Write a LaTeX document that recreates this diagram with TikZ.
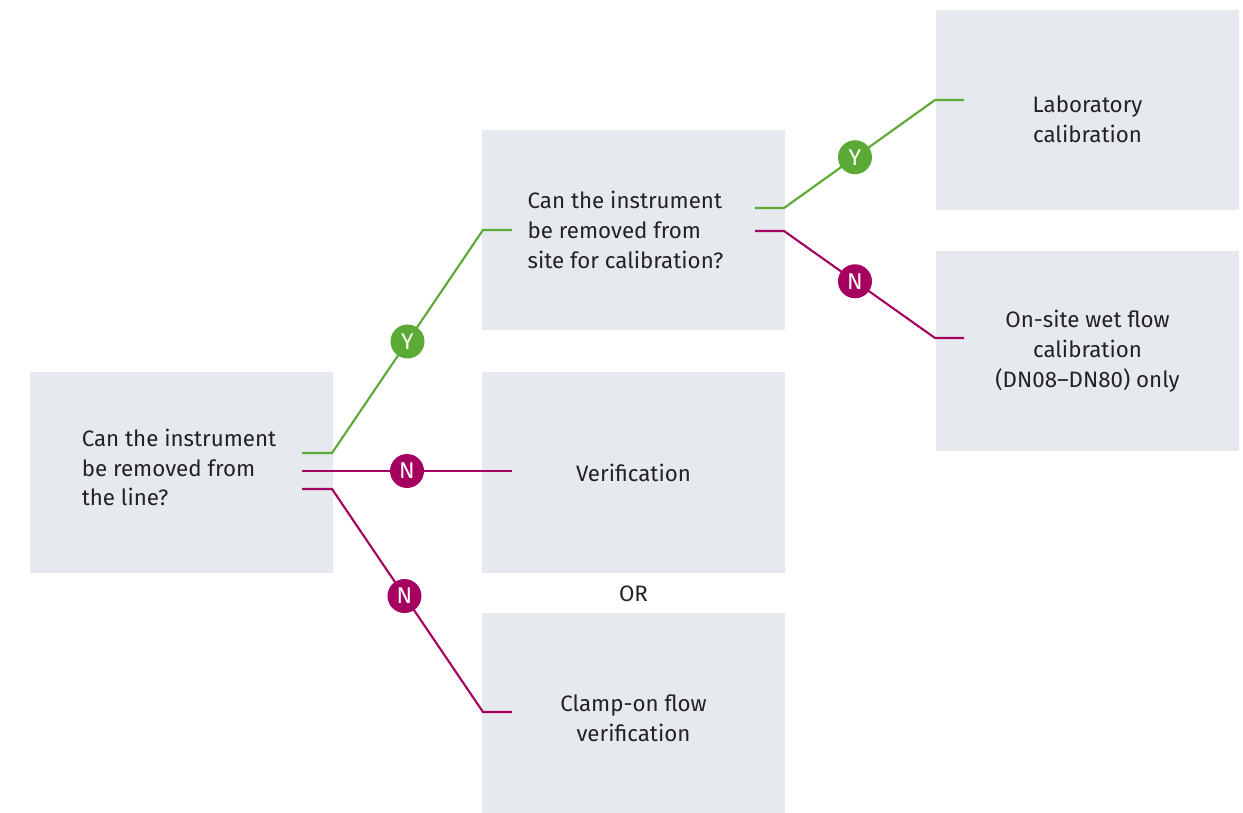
\documentclass[tikz,border=0pt]{standalone}
\usepackage{fontspec}
\setmainfont{Fira Sans}
\usetikzlibrary{positioning}

\definecolor{ehgreen}{HTML}{5BAA35}
\definecolor{ehred}{HTML}{A5005F}
\definecolor{boxgrey}{HTML}{E6EAEE}
\definecolor{txt}{HTML}{222222}

\tikzset{
  boxtext/.style={text=txt, font=\fontsize{12.7}{17}\selectfont},
  box/.style={fill=boxgrey, minimum width=6.06cm, minimum height=4.02cm, boxtext},
  yesline/.style={ehgreen, line width=1.2pt},
  noline/.style={ehred, line width=1.2pt},
  dot/.style={circle, inner sep=0pt, minimum size=0.68cm, text=white, font=\fontsize{13}{13}\selectfont},
  ydot/.style={dot, fill=ehgreen},
  ndot/.style={dot, fill=ehred}
}

\begin{document}
\begin{tikzpicture}[x=0.02cm, y=-0.02cm]
  \useasboundingbox (0,0) rectangle (1243,813);
  % questions and outcomes
  \node[box, label={[boxtext, align=left, xshift=-0.05cm, yshift=0.1cm]center:Can the instrument\\be removed from\\the line?}] (line) at (181.5,472.5) {};
  \node[box, label={[boxtext, align=left, xshift=-0.16cm]center:Can the instrument\\be removed from\\site for calibration?}] (site) at (633.5,230) {};
  \node[box] (verif) at (633.5,472.5) {Verification};
  \node[box, label={[boxtext, align=center, yshift=-0.1cm]center:Clamp-on flow\\verification}] (clamp) at (633.5,713.5) {};
  \node[box, label={[boxtext, align=center, yshift=-0.18cm]center:Laboratory\\calibration}] (lab) at (1087.5,110) {};
  \node[box, align=center] (wet) at (1087.5,351) {On-site wet flow\\calibration\\(DN08--DN80) only};
  \node[boxtext, below=0.12cm of verif] (or) {OR};

  % connector ends
  \coordinate (line-y) at (302,453);
  \coordinate (line-n) at (302,471);
  \coordinate (line-n2) at (302,489);
  \coordinate (site-in) at (483,230);
  \coordinate (verif-in) at (512,471);
  \coordinate (clamp-in) at (483,712);
  \coordinate (site-y) at (755,208);
  \coordinate (site-n) at (755,231);
  \coordinate (lab-in) at (935,100);
  \coordinate (wet-in) at (935,338);

  \draw[yesline] (line-y) -- ++(30,0) -- node[ydot] (y1) {Y} (site-in) -- ++(29,0);
  \draw[noline] (line-n) -- node[ndot] (n1) {N} (verif-in);
  \draw[noline] (line-n2) -- ++(30,0) -- node[ndot, pos=0.48] (n2) {N} (clamp-in) -- ++(29,0);
  \draw[yesline] (site-y) -- ++(29,0) -- node[ydot, pos=0.47] (y2) {Y} (lab-in) -- ++(29,0);
  \draw[noline] (site-n) -- ++(29,0) -- node[ndot, pos=0.47] (n3) {N} (wet-in) -- ++(29,0);
\end{tikzpicture}
\end{document}
